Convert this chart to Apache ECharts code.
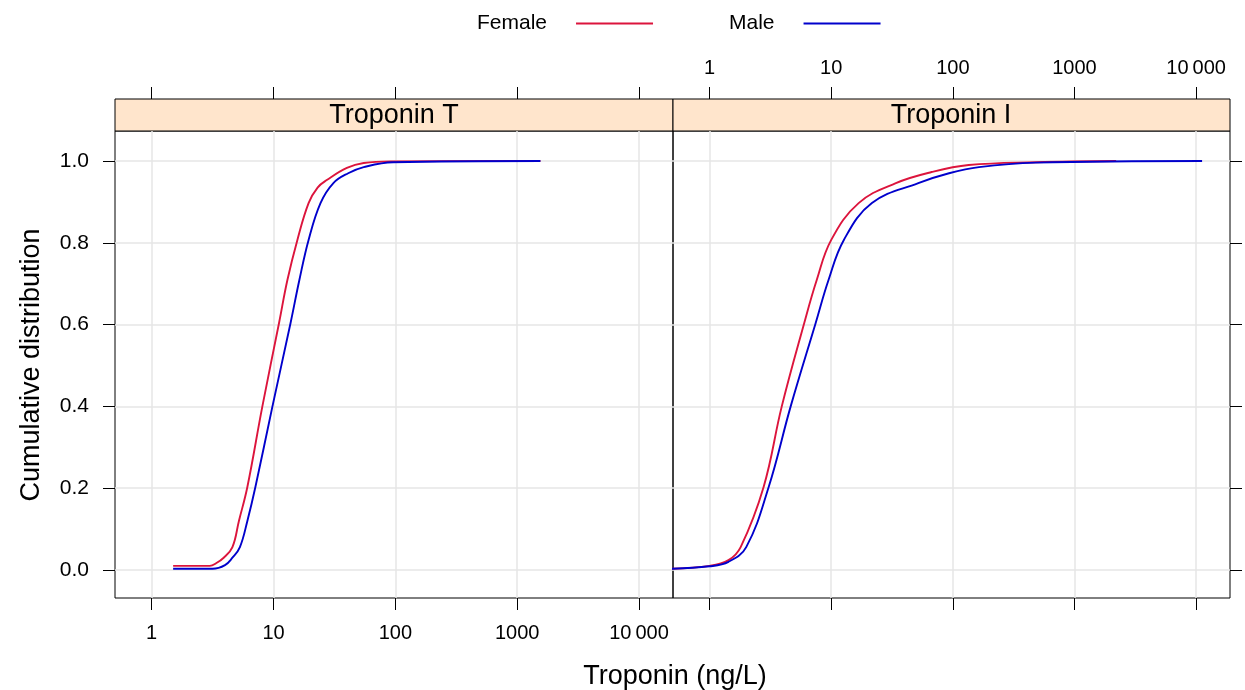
<!DOCTYPE html>
<html>
<head>
<meta charset="utf-8">
<script src="https://cdn.jsdelivr.net/npm/echarts@6/dist/echarts.min.js"></script>
<style>
  html, body { margin: 0; padding: 0; background: #fff; }
  #chart { width: 1245px; height: 690px; }
</style>
</head>
<body>
<div id="chart"></div>
<script>
// panel titles and legend names
const panels = ["Troponin T", "Troponin I"]
const groups = ["Female", "Male"]

// Troponin T, female
const tntFemaleX = [1.5, 3.0, 3.4, 3.9, 4.6, 5.2, 6.1, 8.1, 11.1, 13, 15.7, 19.4, 23, 27.6, 40, 55, 96, 1550]
const tntFemaleY = [0.01, 0.01, 0.017, 0.03, 0.056, 0.12, 0.203, 0.40, 0.604, 0.709, 0.807, 0.897, 0.935, 0.954, 0.983, 0.995, 0.999, 1.0]
// Troponin T, male
const tntMaleX = [1.5, 3.16, 4.0, 4.6, 5.3, 6.1, 7.1, 9.8, 13.8, 16.3, 19.4, 24.3, 31, 41, 55, 96, 1550]
const tntMaleY = [0.003, 0.003, 0.012, 0.03, 0.056, 0.12, 0.203, 0.40, 0.604, 0.709, 0.807, 0.897, 0.946, 0.97, 0.985, 0.997, 1.0]
// Troponin I, female
const tniFemaleX = [0.49, 1.0, 1.43, 1.8, 2.78, 3.92, 6.0, 7.6, 10, 16.8, 34, 67, 135, 480, 2200]
const tniFemaleY = [0.003, 0.01, 0.024, 0.056, 0.203, 0.40, 0.604, 0.709, 0.807, 0.897, 0.946, 0.973, 0.99, 0.997, 1.0]
// Troponin I, male
const tniMaleX = [0.49, 1.0, 1.43, 2.0, 3.06, 4.64, 7.45, 9.5, 12.7, 21.6, 52, 93, 164, 480, 11200]
const tniMaleY = [0.003, 0.009, 0.02, 0.056, 0.203, 0.40, 0.604, 0.709, 0.807, 0.897, 0.946, 0.97, 0.985, 0.996, 1.0]

// tick labels
const xTicks = [1, 10, 100, 1000, 10000]
const yTicks = [0, 0.2, 0.4, 0.6, 0.8, 1.0]

const FONT = "Liberation Sans"
const RED = "#dc143c"
const BLUE = "#0000cc"

const pairs = (xs, ys) => xs.map((x, i) => [x, ys[i]])
const fmtX = v => (v >= 10000 ? "10\u2009000" : String(v))

const chart = echarts.init(document.getElementById("chart"))

function xAxisDef(grid, position, labels, split) {
  return {
    type: "log",
    logBase: 10,
    gridIndex: grid,
    position,
    offset: position === "top" ? 32 : 0,
    min: 0.5,
    max: 19000,
    axisLine: { show: false, onZero: false },
    axisTick: { show: true, length: 12, customValues: xTicks, lineStyle: { color: "#000", width: 1 } },
    axisLabel: {
      show: labels,
      customValues: xTicks,
      formatter: fmtX,
      margin: position === "top" ? 21 : 25,
      fontFamily: FONT,
      fontSize: 20,
      color: "#000"
    },
    splitLine: { show: split, lineStyle: { color: "#e6e6e6", width: 1.5 } },
    minorTick: { show: false }
  }
}

function yAxisDef(grid, position, labels) {
  return {
    type: "value",
    gridIndex: grid,
    position,
    min: -0.0685,
    max: 1.0733,
    axisLine: { show: false, onZero: false },
    axisTick: { show: true, length: 12, customValues: yTicks, lineStyle: { color: "#000", width: 1 } },
    axisLabel: {
      show: labels,
      customValues: yTicks,
      formatter: v => v.toFixed(1),
      margin: 26,
      fontFamily: FONT,
      fontSize: 21,
      color: "#000"
    },
    splitLine: { show: true, lineStyle: { color: "#e6e6e6", width: 1.5 } }
  }
}

function lineSeries(name, xi, data, color) {
  return {
    name,
    type: "line",
    xAxisIndex: xi,
    yAxisIndex: xi < 2 ? 0 : 1,
    data,
    showSymbol: false,
    symbol: "none",
    smooth: 0.4,
    lineStyle: { color, width: 1.9 },
    itemStyle: { color },
    animation: false
  }
}

const option = {
  animation: false,
  legend: {
    data: groups,
    top: 8,
    left: 472,
    align: "right",
    icon: "rect",
    itemWidth: 77,
    itemHeight: 2,
    itemGap: 76,
    textStyle: { fontFamily: FONT, fontSize: 21, color: "#000", padding: [0, 24, 0, 0] }
  },
  grid: [
    { left: 115, top: 131, width: 558, height: 467, show: true, borderColor: "#000", borderWidth: 1, backgroundColor: "transparent" },
    { left: 673, top: 131, width: 557, height: 467, show: true, borderColor: "#000", borderWidth: 1, backgroundColor: "transparent" }
  ],
  xAxis: [
    xAxisDef(0, "bottom", true, true),
    xAxisDef(0, "top", false, false),
    xAxisDef(1, "top", true, true),
    xAxisDef(1, "bottom", false, false)
  ],
  yAxis: [
    yAxisDef(0, "left", true),
    yAxisDef(1, "right", false)
  ],
  series: [
    lineSeries(groups[0], 0, pairs(tntFemaleX, tntFemaleY), RED),
    lineSeries(groups[1], 0, pairs(tntMaleX, tntMaleY), BLUE),
    lineSeries(groups[0], 2, pairs(tniFemaleX, tniFemaleY), RED),
    lineSeries(groups[1], 2, pairs(tniMaleX, tniMaleY), BLUE)
  ],
  graphic: [
    // strips
    { type: "rect", shape: { x: 115, y: 99, width: 558, height: 32 }, style: { fill: "#ffe5cc", stroke: "#000", lineWidth: 1 } },
    { type: "rect", shape: { x: 673, y: 99, width: 557, height: 32 }, style: { fill: "#ffe5cc", stroke: "#000", lineWidth: 1 } },
    { type: "text", x: 394, y: 116, style: { text: panels[0], fontFamily: FONT, fontSize: 27, fill: "#000", align: "center", verticalAlign: "middle" } },
    { type: "text", x: 951, y: 116, style: { text: panels[1], fontFamily: FONT, fontSize: 27, fill: "#000", align: "center", verticalAlign: "middle" } },
    // axis titles
    { type: "text", x: 675, y: 677, style: { text: "Troponin (ng/L)", fontFamily: FONT, fontSize: 27, fill: "#000", align: "center", verticalAlign: "middle" } },
    { type: "text", x: 32, y: 365, rotation: Math.PI / 2, style: { text: "Cumulative distribution", fontFamily: FONT, fontSize: 27, fill: "#000", align: "center", verticalAlign: "middle" } }
  ]
}

chart.setOption(option)
</script>
</body>
</html>
